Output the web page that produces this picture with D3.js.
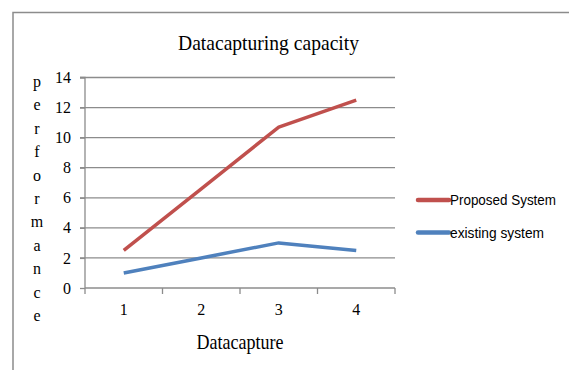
<!DOCTYPE html>
<html><head><meta charset="utf-8">
<script src="https://cdn.jsdelivr.net/npm/d3@7"></script>
<style>body{margin:0;background:#fff}svg{display:block}</style>
</head><body>
<script>
const categories = ["1", "2", "3", "4"];
const proposed = [2.5, 6.6, 10.7, 12.5];
const existing = [1.0, 2.0, 3.0, 2.5];
const yTicks = [0, 2, 4, 6, 8, 10, 12, 14];
const seriesNames = ["Proposed System", "existing system"];
const colors = ["#C0504D", "#4F81BD"];
const yLetters = "performance".split("");

const W = 569, H = 370;
const serif = "'Liberation Serif', 'Times New Roman', serif";
const svg = d3.select("body").append("svg").attr("width", W).attr("height", H);

// frame
svg.append("path").attr("d", `M13,${H} L13,12.5 L${W},12.5`).attr("fill", "none")
  .attr("stroke", "#8c8c8c").attr("stroke-width", 1.5);

const x = d3.scaleBand().domain(categories).range([85, 395]);
const y = d3.scaleLinear().domain([0, 14]).range([288, 77.5]);

// gridlines
svg.append("g").selectAll("line").data(yTicks.filter(d => d > 0)).join("line")
  .attr("x1", 80).attr("x2", 395).attr("y1", d => y(d)).attr("y2", d => y(d))
  .attr("stroke", "#8c8c8c").attr("stroke-width", 1.3);

// y axis
const yAxis = svg.append("g").attr("transform", "translate(85,0)")
  .call(d3.axisLeft(y).tickValues(yTicks).tickSize(5).tickPadding(9))
  .attr("font-family", null).attr("font-size", null);
yAxis.select(".domain").attr("stroke", "#8c8c8c").attr("stroke-width", 1.3).attr("d", `M-5,${y(14)}H0V${y(0)}`);
yAxis.selectAll(".tick line").attr("stroke", "#8c8c8c").attr("stroke-width", 1.3);
yAxis.selectAll(".tick text").style("font-family", serif).style("font-size", "16px").attr("fill", "#000");

// x axis
const xAxis = svg.append("g").attr("transform", `translate(0,${y(0)})`)
  .call(d3.axisBottom(x).tickSize(0).tickPadding(16))
  .attr("font-family", null).attr("font-size", null);
xAxis.select(".domain").attr("stroke", "#8c8c8c").attr("stroke-width", 1.3).attr("d", `M85,0H395`);
xAxis.selectAll(".tick text").style("font-family", serif).style("font-size", "16px").attr("fill", "#000");
const bounds = x.domain().map(d => x(d)).concat([395]);
xAxis.selectAll(".sep").data(bounds).join("line").attr("class", "sep")
  .attr("x1", d => d).attr("x2", d => d).attr("y1", 0).attr("y2", 6)
  .attr("stroke", "#8c8c8c").attr("stroke-width", 1.3);

// lines
const line = d3.line().x((d, i) => x(categories[i]) + x.bandwidth() / 2).y(d => y(d));
[proposed, existing].forEach((s, i) => {
  svg.append("path").datum(s).attr("d", line).attr("fill", "none")
    .attr("stroke", colors[i]).attr("stroke-width", 3.5).attr("stroke-linejoin", "round");
});

// title
svg.append("text").attr("x", 268.5).attr("y", 50).attr("text-anchor", "middle")
  .style("font-family", serif).style("font-size", "22px")
  .attr("textLength", 181).attr("lengthAdjust", "spacingAndGlyphs")
  .text("Datacapturing capacity");

// x title
svg.append("text").attr("x", 240).attr("y", 349).attr("text-anchor", "middle")
  .style("font-family", serif).style("font-size", "21px")
  .attr("textLength", 87).attr("lengthAdjust", "spacingAndGlyphs")
  .text("Datacapture");

// y title (stacked letters)
svg.append("g").selectAll("text").data(yLetters).join("text")
  .attr("x", 37).attr("y", (d, i) => 87 + i * 23.4).attr("text-anchor", "middle")
  .style("font-family", serif).style("font-size", "16px")
  .text(d => d);

// legend
const leg = svg.append("g");
const legW = [106, 94];
seriesNames.forEach((n, i) => {
  const ly = 200 + i * 32.5;
  leg.append("line").attr("x1", 418).attr("x2", 449).attr("y1", ly).attr("y2", ly)
    .attr("stroke", colors[i]).attr("stroke-width", 4.5).attr("stroke-linecap", "round");
  leg.append("text").attr("x", 450).attr("y", ly + 5)
    .style("font-family", "'Liberation Sans', Arial, sans-serif").style("font-size", "15px")
    .attr("textLength", legW[i]).attr("lengthAdjust", "spacingAndGlyphs")
    .attr("fill", "#000").text(n);
});
</script>
</body></html>
